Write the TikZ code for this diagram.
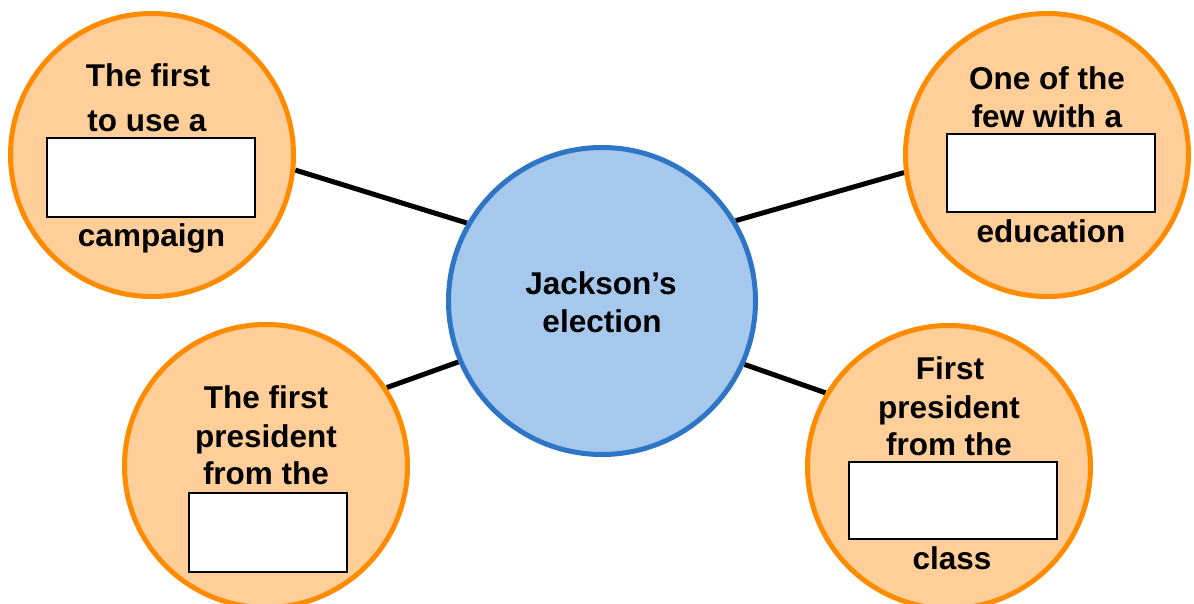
\documentclass[tikz,border=0pt]{standalone}
\usepackage{fontspec}
\setmainfont{Liberation Sans}
\usetikzlibrary{backgrounds}
\definecolor{peach}{RGB}{255,206,153}
\definecolor{orng}{RGB}{255,140,0}
\definecolor{lblue}{RGB}{166,200,236}
\definecolor{dblue}{RGB}{46,117,198}
\begin{document}
\begin{tikzpicture}[x=1pt,y=-1pt,
  bubble/.style={circle,draw=orng,fill=peach,line width=5pt,minimum size=283pt,inner sep=0pt},
  hub/.style={circle,draw=dblue,fill=lblue,line width=5pt,minimum size=307pt,inner sep=0pt},
  blank/.style={rectangle,draw=black,fill=white,line width=2.5pt,inner sep=0pt},
  txt/.style={anchor=base,inner sep=0pt,font=\fontsize{31.5}{38}\selectfont\bfseries},
  link/.style={draw=black,line width=5pt}]
\useasboundingbox (0,0) rectangle (1194,604);
% circles
\node[hub] (c) at (602,301) {};
\node[bubble] (tl) at (152,155) {};
\node[bubble] (tr) at (1047,155) {};
\node[bubble] (bl) at (266,466) {};
\node[bubble] (br) at (949,467) {};
% connectors
\begin{scope}[on background layer]
\draw[link] (tl.-6.7) -- (c.150.7);
\draw[link] (tr.187.2) -- (c.31);
\draw[link] (bl.33.1) -- (c.203.9);
\draw[link] (br.149.7) -- (c.-24.1);
\end{scope}
% blank boxes
\node[blank,minimum width=208pt,minimum height=79pt] (tlbox) at (151,177.5) {};
\node[blank,minimum width=208pt,minimum height=78pt] (trbox) at (1051,173) {};
\node[blank,minimum width=158pt,minimum height=79pt] (blbox) at (268,532.5) {};
\node[blank,minimum width=208pt,minimum height=77pt] (brbox) at (953,500.5) {};
% texts
\node[txt] (c1) at (601,294) {Jackson’s};
\node[txt] (c2) at (602,332) {election};
\node[txt] (tl1) at (148,87) {The first};
\node[txt] (tl2) at (147,132) {to use a};
\node[txt] (tl3) at (151.5,247) {campaign};
\node[txt] (tr1) at (1047,90) {One of the};
\node[txt] (tr2) at (1047,128) {few with a};
\node[txt] (tr3) at (1051,243) {education};
\node[txt] (bl1) at (266,408) {The first};
\node[txt] (bl2) at (266,447) {president};
\node[txt] (bl3) at (266,484) {from the};
\node[txt] (br1) at (950,379) {First};
\node[txt] (br2) at (949,418) {president};
\node[txt] (br3) at (949,455) {from the};
\node[txt] (br4) at (952,569) {class};
\end{tikzpicture}
\end{document}
